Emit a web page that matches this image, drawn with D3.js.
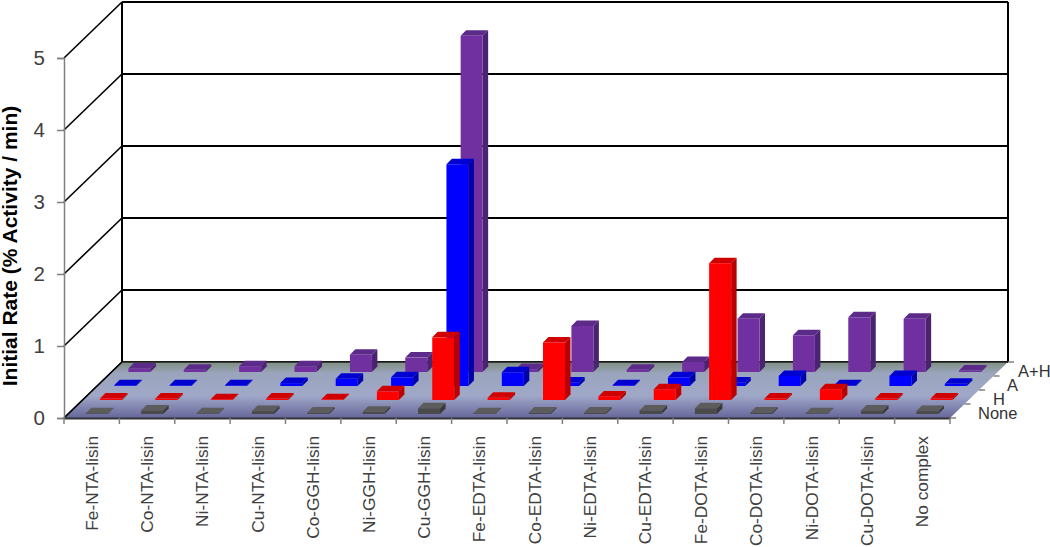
<!DOCTYPE html>
<html>
<head>
<meta charset="utf-8">
<script src="https://cdn.jsdelivr.net/npm/d3@7"></script>
<style>
html,body{margin:0;padding:0;background:#fff;overflow:hidden}
text{font-family:"Liberation Sans",Arial,sans-serif}
</style>
</head>
<body>
<script>
var width = 1050, height = 547;

var categories = ["Fe-NTA-lisin","Co-NTA-lisin","Ni-NTA-lisin","Cu-NTA-lisin","Co-GGH-lisin","Ni-GGH-lisin","Cu-GGH-lisin","Fe-EDTA-lisin","Co-EDTA-lisin","Ni-EDTA-lisin","Cu-EDTA-lisin","Fe-DOTA-lisin","Co-DOTA-lisin","Ni-DOTA-lisin","Cu-DOTA-lisin","No complex"];
var seriesNames = ["None","H","A","A+H"];
var noneVals = [0.01,0.05,0.01,0.04,0.02,0.03,0.08,0.01,0.02,0.02,0.05,0.08,0.02,0.01,0.05,0.04];
var hVals    = [0.02,0.02,0.01,0.02,0.01,0.12,0.87,0.03,0.80,0.05,0.15,1.90,0.02,0.15,0.02,0.02];
var aVals    = [0.01,0.01,0.01,0.04,0.10,0.12,3.08,0.19,0.05,0.01,0.12,0.05,0.14,0.01,0.14,0.03];
var ahVals   = [0.05,0.03,0.08,0.08,0.24,0.20,4.67,0.04,0.64,0.03,0.14,0.74,0.51,0.76,0.74,0.02];
var yTicks = [0,1,2,3,4,5];

var faceFront = ["#4a4a4a","#ff0000","#0000ff","#7030a0"];
var faceTop   = ["#5c5c5c","#d00000","#0000d0","#5c2b8a"];
var faceSide  = ["#3a3a3a","#b80000","#0000a8","#4a2470"];

var seriesVals = [noneVals,hVals,aVals,ahVals];

var left = 64, right = 950, floorY = 418, wallDx = 58, wallDy = 56;
var barW = 22, barDx = 5.5, barDy = 5.5, barInset = 21.8, rowStep = 14.2;

var x = d3.scaleBand().domain(categories).range([left,right]);
var y = d3.scaleLinear().domain([0,5]).range([floorY,58]);
var dx = d3.scaleLinear().domain([0,4]).range([0,wallDx]);
var dy = d3.scaleLinear().domain([0,4]).range([0,wallDy]);

var svg = d3.select("body").append("svg")
  .attr("width",width).attr("height",height)
  .style("display","block");

var defs = svg.append("defs");
var grad = defs.append("linearGradient").attr("id","floor")
  .attr("x1",0).attr("y1",0).attr("x2",0).attr("y2",1);
grad.append("stop").attr("offset","0").attr("stop-color","#7f8f80");
grad.append("stop").attr("offset","0.2").attr("stop-color","#9aa4bc");
grad.append("stop").attr("offset","0.6").attr("stop-color","#a0a8c8");
grad.append("stop").attr("offset","1").attr("stop-color","#66669a");

function poly(pts){ return pts.map(function(p){return p.join(",")}).join(" ") }

// walls
var grid = svg.append("g").attr("fill","none").attr("stroke","#000");
yTicks.forEach(function(t){
  grid.append("line").attr("x1",left+wallDx).attr("x2",right+wallDx)
    .attr("y1",y(t)-wallDy).attr("y2",y(t)-wallDy).attr("stroke-width",2);
  grid.append("line").attr("x1",left).attr("x2",left+wallDx)
    .attr("y1",y(t)).attr("y2",y(t)-wallDy).attr("stroke-width",1.6);
});
grid.append("line").attr("x1",left+wallDx).attr("x2",left+wallDx).attr("y1",y(5)-wallDy).attr("y2",floorY-wallDy).attr("stroke-width",2);
grid.append("line").attr("x1",right+wallDx).attr("x2",right+wallDx).attr("y1",y(5)-wallDy).attr("y2",floorY-wallDy).attr("stroke-width",2);

// floor
svg.append("polygon")
  .attr("points",poly([[left,floorY],[right,floorY],[right+wallDx,floorY-wallDy],[left+wallDx,floorY-wallDy]]))
  .attr("fill","url(#floor)");
svg.append("line").attr("x1",left).attr("x2",left+wallDx).attr("y1",floorY).attr("y2",floorY-wallDy).attr("stroke","#000").attr("stroke-width",1.6);
svg.append("line").attr("x1",left+wallDx).attr("x2",right+wallDx).attr("y1",floorY-wallDy).attr("y2",floorY-wallDy).attr("stroke","#222").attr("stroke-width",1.5);

// y axis
var yAxis = svg.append("g").attr("transform","translate("+left+",0)")
  .call(d3.axisLeft(y).tickValues(yTicks).tickFormat(d3.format("d")).tickSize(7).tickPadding(12));
yAxis.selectAll("path,line").attr("stroke","#808080").attr("stroke-width",1.5);
yAxis.selectAll("text").attr("font-size",20.5).attr("fill","#404040");

// category axis
var xAxis = svg.append("g").attr("transform","translate(0,"+floorY+")")
  .call(d3.axisBottom(x).tickSize(0).tickPadding(0));
xAxis.select("path").attr("stroke","#333").attr("stroke-width",2);
xAxis.selectAll("text")
  .attr("font-size",17.3).attr("fill","#404040")
  .attr("text-anchor","end")
  .attr("transform","translate(6,18) rotate(-90)")
  .attr("x",0).attr("y",0).attr("dy","0");
svg.append("g").selectAll("line").data(d3.range(categories.length+1)).enter().append("line")
  .attr("x1",function(i){return left+i*x.step()}).attr("x2",function(i){return left+i*x.step()})
  .attr("y1",floorY).attr("y2",floorY+6)
  .attr("stroke","#808080").attr("stroke-width",1.5);

// depth axis
svg.append("g").selectAll("line").data(d3.range(5)).enter().append("line")
  .attr("x1",function(r){return right+dx(r)}).attr("x2",function(r){return right+dx(r)+6})
  .attr("y1",function(r){return floorY-dy(r)}).attr("y2",function(r){return floorY-dy(r)})
  .attr("stroke","#808080").attr("stroke-width",1.5);
var depthLabelX = [978,993,1007,1018];
svg.append("g").selectAll("text").data(seriesNames).enter().append("text")
  .attr("x",function(d,r){return depthLabelX[r]})
  .attr("y",function(d,r){return floorY-dy(r)+0.5})
  .attr("font-size",16.5).attr("fill","#333")
  .text(function(d){return d});

// bars, back row first
d3.range(3,-1,-1).forEach(function(r){
  var g = svg.append("g");
  var bars = g.selectAll("g").data(seriesVals[r]).enter().append("g");
  function x0(d,i){ return x(categories[i])+barInset+r*rowStep }
  function base(){ return y(0)-4-dy(r) }
  function top(d){ return base()-(y(0)-y(d)) }
  bars.append("polygon").attr("fill",faceSide[r]).attr("points",function(d,i){
    var a=x0(d,i)+barW;
    return poly([[a,base()],[a+barDx,base()-barDy],[a+barDx,top(d)-barDy],[a,top(d)]]);
  });
  bars.append("polygon").attr("fill",faceTop[r]).attr("points",function(d,i){
    var a=x0(d,i);
    return poly([[a,top(d)],[a+barW,top(d)],[a+barW+barDx,top(d)-barDy],[a+barDx,top(d)-barDy]]);
  });
  bars.append("rect").attr("fill",faceFront[r])
    .attr("x",x0).attr("y",top).attr("width",barW)
    .attr("height",function(d){return base()-top(d)});
});

// y title
svg.append("text")
  .attr("transform","translate(17,246) rotate(-90)")
  .attr("text-anchor","middle")
  .attr("font-size",21).attr("font-weight","bold").attr("fill","#000")
  .text("Initial Rate (% Activity / min)");
</script>
</body>
</html>
